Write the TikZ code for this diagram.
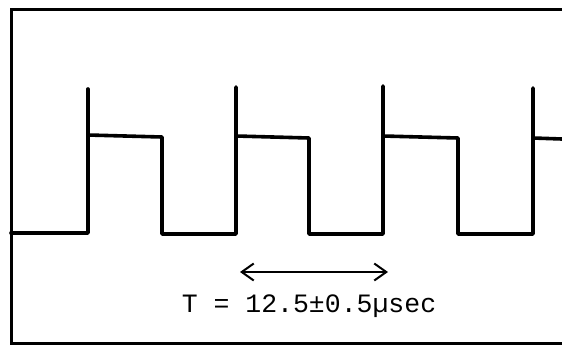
\documentclass[tikz,border=0pt]{standalone}
\usepackage{fontspec}
\setmonofont{Liberation Mono}
\usetikzlibrary{arrows.meta}
\begin{document}
\begin{tikzpicture}[x=1pt,y=-1pt,
  frameline/.style={line width=3pt},
  wave/.style={line width=3.6pt,line join=round,line cap=round},
  dimarrow/.style={line width=2pt,{Straight Barb[length=12pt,width=17pt]}-{Straight Barb[length=12pt,width=17pt]}},
  lbl/.style={font=\ttfamily\fontsize{26.5}{30}\selectfont,inner sep=0pt}]
\useasboundingbox (0,0) rectangle (562,346);
\fill[white] (0,0) rectangle (562,346);
% frame (open at right)
\draw[frameline] (562,9) -- (11,9) -- (11,343) -- (562,343);
% waveform
\draw[wave] (11,233) -- (88,233) -- (88,89);
\draw[wave] (88,135) -- (162,137) -- (162,234) -- (236,234) -- (236,87);
\draw[wave] (236,136) -- (309,138) -- (309,234) -- (383,234) -- (383,86);
\draw[wave] (383,136) -- (458,138) -- (458,234) -- (533,234) -- (533,88);
\draw[wave,line cap=butt] (533,138) -- (562,139);
% period arrow
\coordinate (pa) at (240,272);
\coordinate (pb) at (388,272);
\draw[dimarrow] (pa) -- (pb);
\node[lbl,anchor=base] (period) at (309,312) {T = 12.5±0.5µsec};
\end{tikzpicture}
\end{document}
